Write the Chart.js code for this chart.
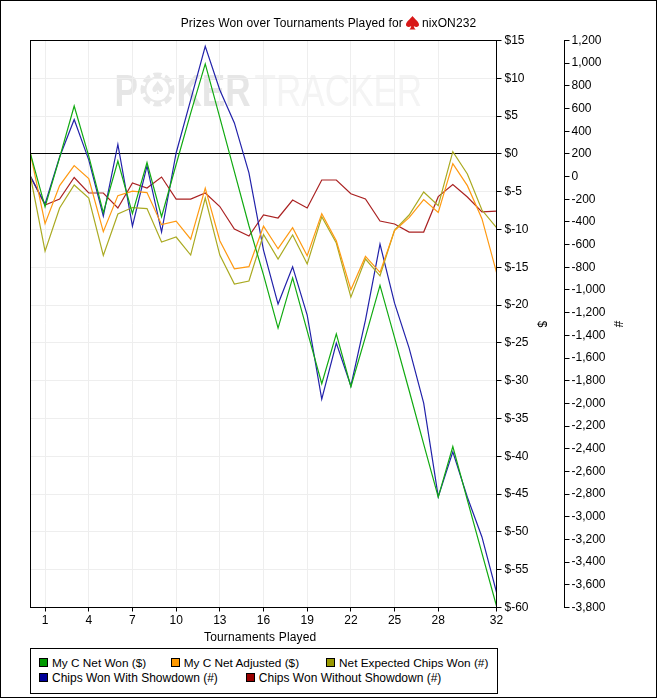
<!DOCTYPE html>
<html>
<head>
<meta charset="utf-8">
<title>Prizes Won over Tournaments Played</title>
<script src="https://cdn.jsdelivr.net/npm/chart.js@4"></script>
<style>
    html, body { margin: 0; padding: 0; background: #fff; }
    body { font-family: "Liberation Sans", Arial, sans-serif; font-size: 12px; color: #000; }
    #page { position: relative; width: 657px; height: 698px; overflow: hidden; }
    #page canvas { position: absolute; left: 0; top: 0; }
    #frame { position: absolute; inset: 0; border: 1px solid #000; box-sizing: border-box; pointer-events: none; }
    #chartTitle {
        position: absolute; left: 0; top: 15px; width: 657px; height: 15px;
        display: flex; justify-content: center; align-items: center; gap: 3px;
        white-space: nowrap; letter-spacing: 0.12px;
    }
    #xTitle { position: absolute; left: 204px; top: 630px; white-space: nowrap; letter-spacing: 0.17px; }
    #legendBox {
        position: absolute; left: 30px; top: 648px; width: 468px; height: 46px;
        border: 1px solid #000; box-sizing: border-box; background: #fff; padding: 6px 0 0 8px;
    }
    .legend-row { display: flex; gap: 27px; height: 15px; align-items: center; white-space: nowrap; }
    .legend-row:first-child { font-size: 11.8px; }
    .legend-row:first-child .legend-item:first-child { margin-right: -2.5px; }
    .legend-row:last-child { gap: 28px; }
    .legend-item { display: flex; align-items: center; gap: 4px; }
    .legend-swatch { width: 7px; height: 7px; border: 1px solid #000; display: inline-block; }
</style>
</head>
<body>
<div id="page">
    <canvas id="prizesChart" width="657" height="698"></canvas>
    <div id="chartTitle">
        <span>Prizes Won over Tournaments Played for</span>
        <svg width="13" height="14" viewBox="0 0 14 15"><path d="M7 0 C9 3 14 6 14 9.5 C14 12 10.5 12.6 8.4 10.8 C8.6 12.4 9.2 13.6 10.4 14.6 L3.6 14.6 C4.8 13.6 5.4 12.4 5.6 10.8 C3.5 12.6 0 12 0 9.5 C0 6 5 3 7 0 Z" fill="#d81818"/></svg>
        <span>nixON232</span>
    </div>
    <div id="xTitle">Tournaments Played</div>
    <div id="legendBox"></div>
    <div id="frame"></div>
</div>

<script>
/* -------------------------------------------------------
 * DATA
 * ----------------------------------------------------- */
const tournaments = [0, 1, 2, 3, 4, 5, 6, 7, 8, 9, 10, 11, 12, 13, 14, 15, 16, 17, 18, 19, 20, 21, 22, 23, 24, 25, 26, 27, 28, 29, 30, 31, 32];
const xTickValues = [1, 4, 7, 10, 13, 16, 19, 22, 25, 28, 32];

// dollars, left-hand ($) axis
const netWon = [0, -7.0, -0.5, 6.33, -0.3, -7.77, -0.95, -7.9, -1.15, -8.3, -1.4, 5.4, 11.9, 4.8, -2.34, -9.5, -16.0, -23.04, -16.4, -23.4, -30.4, -23.8, -30.8, -24.2, -17.4, -24.3, -31.3, -38.4, -45.4, -38.7, -45.8, -52.8, -59.8];
const netAdjusted = [0, -9.23, -4.2, -1.55, -3.27, -10.29, -5.52, -4.93, -5.12, -9.36, -8.9, -11.28, -4.53, -11.48, -15.19, -14.92, -9.56, -12.54, -9.76, -13.46, -7.9, -11.48, -17.97, -13.56, -15.68, -10.15, -8.43, -6.05, -7.73, -1.28, -4.2, -8.57, -15.68];

// chips, right-hand (#) axis
const expectedChips = [0, -657, -277, -74, -189, -696, -330, -273, -282, -577, -533, -692, -189, -692, -948, -921, -511, -727, -515, -771, -354, -586, -1063, -727, -875, -471, -339, -136, -257, 220, 23, -295, -451];
const showdownChips = [0, -242, 173, 504, 147, -348, 283, -436, 94, -489, 208, 676, 1148, 764, 473, 32, -648, -1124, -795, -1222, -1963, -1469, -1846, -1266, -595, -1116, -1513, -1998, -2823, -2428, -2828, -3178, -3666];
const nonShowdownChips = [0, -251, -198, -8, -145, -145, -277, -56, -101, -4, -198, -198, -145, -264, -462, -524, -339, -365, -207, -277, -30, -30, -151, -198, -392, -418, -489, -489, -177, -71, -180, -312, -304];

const seriesNames = ["My C Net Won ($)", "My C Net Adjusted ($)", "Net Expected Chips Won (#)", "Chips Won With Showdown (#)", "Chips Won Without Showdown (#)"];
const seriesColors = ["#009900", "#ff9900", "#999900", "#000099", "#990000"];
const lineColors = ["#11aa11", "#ff9911", "#aaaa22", "#2222aa", "#aa2222"];
const seriesValues = [netWon, netAdjusted, expectedChips, showdownChips, nonShowdownChips];
const seriesAxes = ["yDollar", "yDollar", "yChips", "yChips", "yChips"];


/* -------------------------------------------------------
 * WATERMARK + PLOT FRAME
 * ----------------------------------------------------- */
const watermarkPlugin = {
    id: "watermark",
    beforeDraw(chart) {
        const { ctx, chartArea } = chart;
        const left = chartArea.left, top = chartArea.top;
        const base = top + 65;

        // squeezed text, the logo lettering is narrower than the installed fonts
        const squeezed = (text, x, font, color) => {
            ctx.save();
            ctx.translate(left + x, base);
            ctx.scale(0.78, 1);
            ctx.font = font;
            ctx.fillStyle = color;
            ctx.fillText(text, 0, 0);
            ctx.restore();
        };

        ctx.save();
        ctx.textBaseline = "alphabetic";
        squeezed("P", 84, "bold 45px 'Liberation Sans', Arial, sans-serif", "#e6e6e6");
        squeezed("KER", 146, "bold 45px 'Liberation Sans', Arial, sans-serif", "#e6e6e6");
        squeezed("TRACKER", 224, "45px 'Liberation Sans', Arial, sans-serif", "#f4f4f4");

        // poker chip standing in for the O
        const cx = left + 127, cy = top + 49;
        ctx.fillStyle = "#e8e8e8";
        ctx.beginPath();
        ctx.arc(cx, cy, 17, 0, Math.PI * 2);
        ctx.fill();
        ctx.strokeStyle = "#fff";
        ctx.lineWidth = 4;
        for (let i = 0; i < 4; i++) {
            const a = i * Math.PI / 4 + Math.PI / 8;
            ctx.beginPath();
            ctx.moveTo(cx + Math.cos(a) * 18, cy + Math.sin(a) * 18);
            ctx.lineTo(cx + Math.cos(a) * 13, cy + Math.sin(a) * 13);
            ctx.moveTo(cx - Math.cos(a) * 18, cy - Math.sin(a) * 18);
            ctx.lineTo(cx - Math.cos(a) * 13, cy - Math.sin(a) * 13);
            ctx.stroke();
        }
        ctx.fillStyle = "#fff";
        ctx.beginPath();
        ctx.arc(cx, cy, 11, 0, Math.PI * 2);
        ctx.fill();
        ctx.fillStyle = "#e8e8e8";
        ctx.font = "18px 'DejaVu Sans', sans-serif";
        ctx.textAlign = "center";
        ctx.textBaseline = "middle";
        ctx.fillText("\u2660", cx, cy);
        ctx.restore();
    },
    afterDraw(chart) {
        const { ctx, chartArea } = chart;
        ctx.save();
        ctx.strokeStyle = "#000";
        ctx.lineWidth = 1;
        ctx.strokeRect(chartArea.left, chartArea.top, chartArea.right - chartArea.left, chartArea.bottom - chartArea.top);
        ctx.restore();
    }
};


/* -------------------------------------------------------
 * CHART
 * ----------------------------------------------------- */
Chart.defaults.font.family = "'Liberation Sans', Arial, sans-serif";
Chart.defaults.font.size = 12;
Chart.defaults.color = "#000";

new Chart(document.getElementById("prizesChart"), {
    type: "line",
    data: {
        datasets: seriesNames.map((name, i) => ({
            label: name,
            data: seriesValues[i].map((v, n) => ({ x: tournaments[n], y: v })),
            yAxisID: seriesAxes[i],
            borderColor: lineColors[i],
            borderWidth: 1.2,
            pointRadius: 0,
            tension: 0,
            fill: false
        }))
    },
    options: {
        responsive: false,
        animation: false,
        layout: { padding: { left: 30.5, top: 40.5, right: 27.5, bottom: 45.5 } },
        plugins: { legend: { display: false }, title: { display: false }, tooltip: { enabled: false } },
        scales: {
            x: {
                type: "linear",
                min: 0,
                max: 32,
                afterBuildTicks: axis => { axis.ticks = xTickValues.map(v => ({ value: v })); },
                afterFit: axis => { axis.height = 45; },
                ticks: { autoSkip: false, maxRotation: 0, padding: 2, callback: v => String(v) },
                grid: { color: "#eeeeee", tickColor: "#000", tickLength: 4 },
                border: { color: "#000" }
            },
            yDollar: {
                type: "linear",
                position: "right",
                weight: 1,
                min: -60,
                max: 15,
                afterFit: axis => { axis.width = 68; },
                ticks: { stepSize: 5, autoSkip: false, padding: 3, callback: v => "$" + v },
                grid: {
                    color: ctx => (ctx.tick && ctx.tick.value === 0 ? "#000" : "#eeeeee"),
                    tickColor: "#000",
                    tickLength: 5
                },
                border: { color: "#000" },
                title: { display: true, text: "$", padding: { top: 16, bottom: 0 } }
            },
            yChips: {
                type: "linear",
                position: "right",
                weight: 2,
                min: -3800,
                max: 1200,
                afterFit: axis => { axis.width = 65; },
                ticks: { stepSize: 200, autoSkip: false, padding: 2, callback: v => v.toLocaleString("en-US") },
                grid: { drawOnChartArea: false, tickColor: "#000", tickLength: 5 },
                border: { color: "#000" },
                title: { display: true, text: "#", padding: { top: 5, bottom: 0 } }
            }
        }
    },
    plugins: [watermarkPlugin]
});


/* -------------------------------------------------------
 * LEGEND (two rows, built from the series names)
 * ----------------------------------------------------- */
const legendBox = document.getElementById("legendBox");
[[0, 1, 2], [3, 4]].forEach(rowItems => {
    const row = document.createElement("div");
    row.className = "legend-row";
    rowItems.forEach(i => {
        const item = document.createElement("span");
        item.className = "legend-item";
        const swatch = document.createElement("span");
        swatch.className = "legend-swatch";
        swatch.style.background = seriesColors[i];
        const label = document.createElement("span");
        label.textContent = seriesNames[i];
        item.append(swatch, label);
        row.appendChild(item);
    });
    legendBox.appendChild(row);
});
</script>
</body>
</html>
